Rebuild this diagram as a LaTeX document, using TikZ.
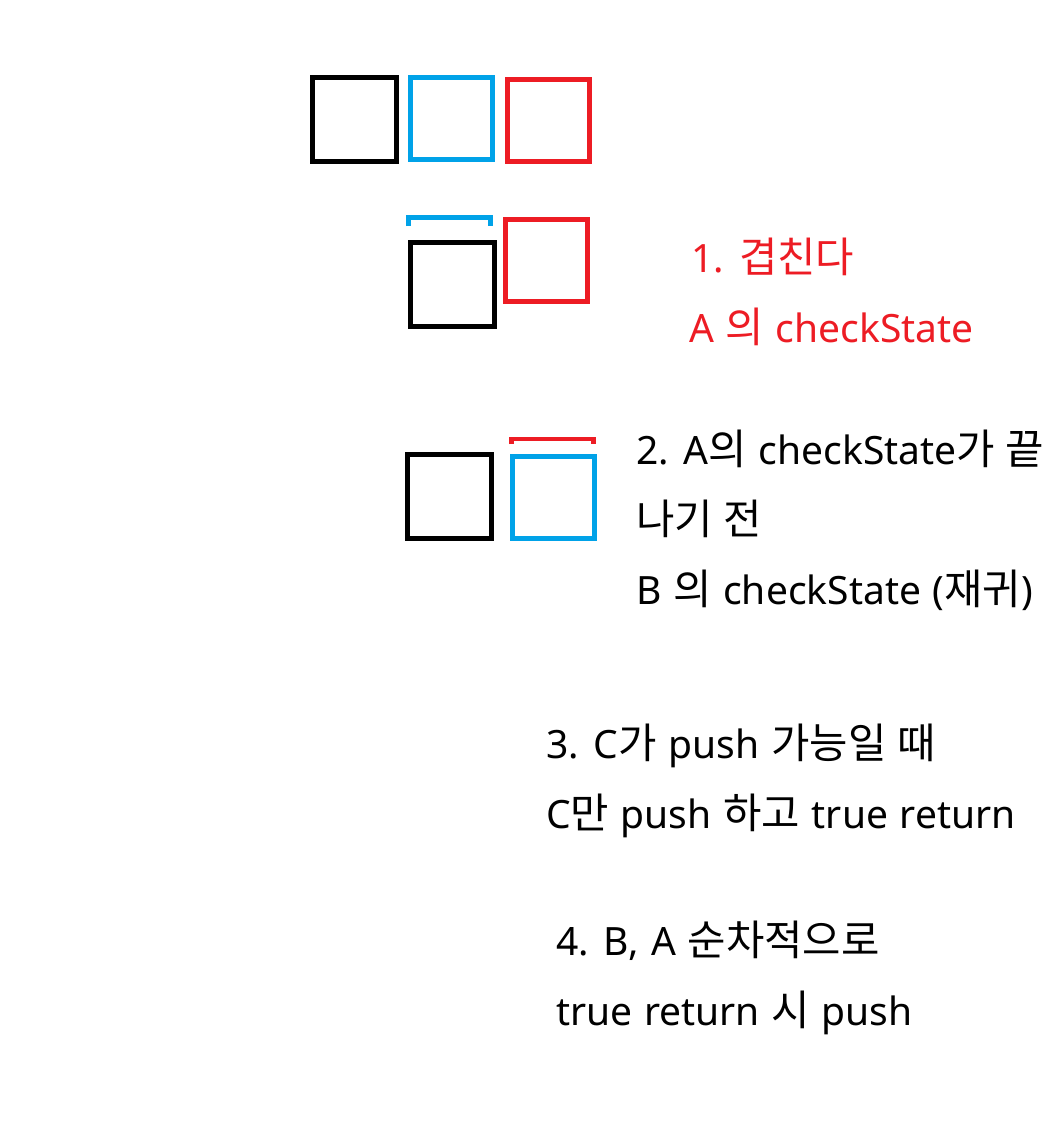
\documentclass[tikz,border=0pt]{standalone}
\usepackage{fontspec}
\setmainfont{Noto Sans}[WordSpace=1.15]
\newfontfamily\kr{Noto Sans CJK KR}[Scale=1.07,WordSpace=1.15]
\definecolor{pred}{HTML}{ED1C24}
\definecolor{pblue}{HTML}{00A2E8}
\tikzset{
  sqk/.style={draw=black, line width=5pt, minimum width=84pt, minimum height=84pt, inner sep=0pt},
  sqc/.style={draw=#1, line width=5pt, minimum width=82pt, minimum height=82pt, inner sep=0pt},
  txt/.style={anchor=base west, inner sep=0pt, font=\fontsize{39}{48}\selectfont},
  brk/.style={draw=#1, line width=5pt, miter limit=10}
}
\begin{document}
\begin{tikzpicture}[x=1pt,y=-1pt]
\useasboundingbox[fill=white] (0,0) rectangle (1056,1128);
% row 1
\node[sqk] (a1) at (354.5,119.5) {};
\node[sqc=pblue] (b1) at (451.5,118.5) {};
\node[sqc=pred] (c1) at (548.5,120.5) {};
% row 2
\node[sqk] (a2) at (452.5,284.5) {};
\node[sqc=pred] (c2) at (546.5,260.5) {};
\coordinate (bl2) at (408.5,226);
\coordinate (br2) at (490.5,226);
\draw[brk=pblue] (bl2) -- ++(0,-8.5) -| (br2);
% row 3
\node[sqk] (a3) at (449.5,496.5) {};
\node[sqc=pblue] (b3) at (553.5,497.5) {};
\coordinate (rl3) at (511.5,444);
\coordinate (rr3) at (593.5,444);
\draw[brk=pred, line width=4.5pt] (rl3) -- ++(0,-5) -| (rr3);
% texts
\node[txt, text=pred] (t11) at (691,272) {1. {\kr 겹친다}};
\node[txt, text=pred] (t12) at (689,342) {A {\kr 의} checkState};
\node[txt] (t21) at (636,464) {2. A{\kr 의} checkState{\kr 가 끝}};
\node[txt] (t22) at (636,534) {{\kr 나기 전}};
\node[txt] (t23) at (636,604) {B {\kr 의} checkState ({\kr 재귀})};
\node[txt] (t31) at (546,758) {3. C{\kr 가} push {\kr 가능일 때}};
\node[txt] (t32) at (546,828) {C{\kr 만} push {\kr 하고} true return};
\node[txt] (t41) at (556,955) {4. B, A {\kr 순차적으로}};
\node[txt] (t42) at (556,1025) {true return {\kr 시} push};
\end{tikzpicture}
\end{document}
